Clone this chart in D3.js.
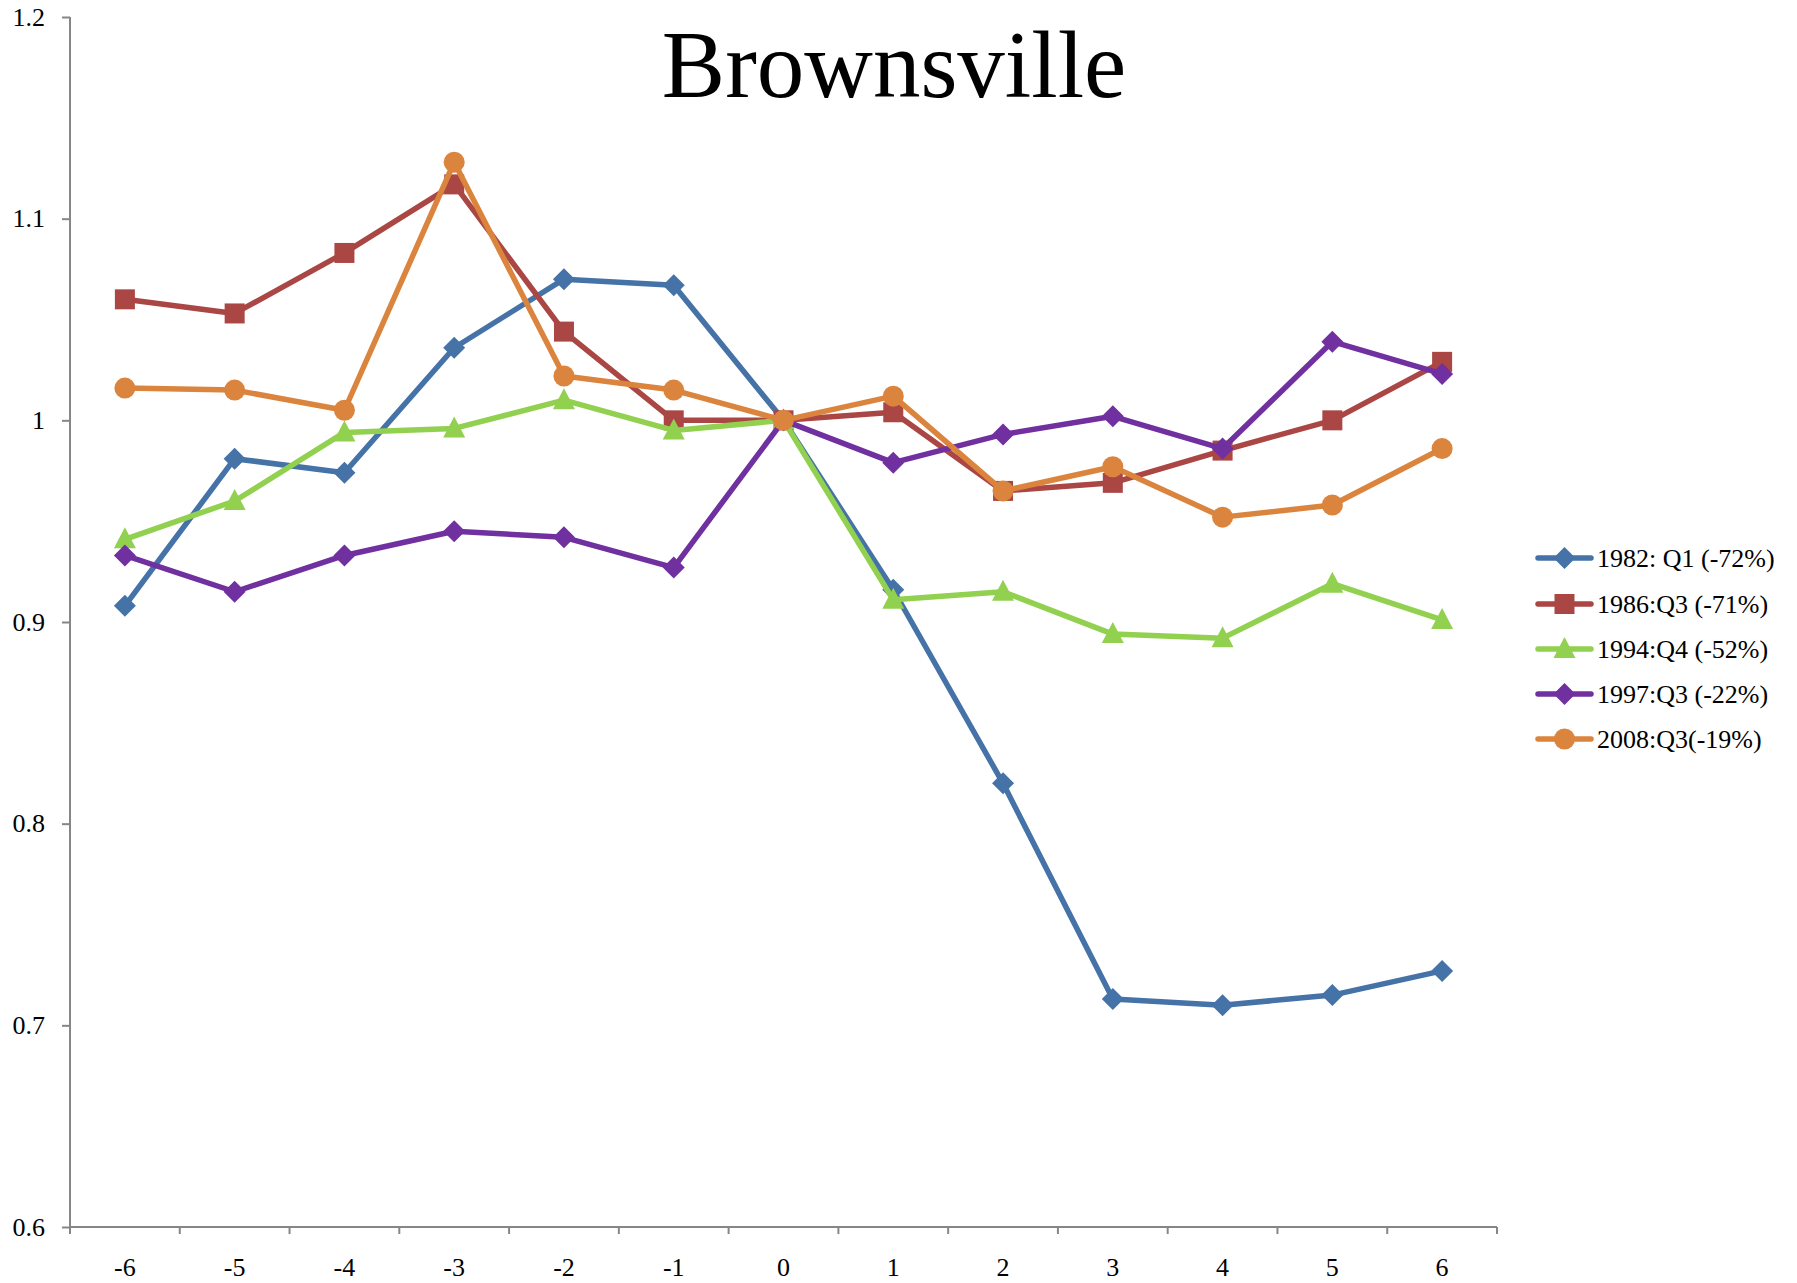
<!DOCTYPE html>
<html>
<head>
<meta charset="utf-8">
<title>Brownsville</title>
<script src="https://cdn.jsdelivr.net/npm/d3@7"></script>
<style>
  html, body { margin: 0; padding: 0; background: #ffffff; }
  svg { display: block; }
  text { font-family: "Liberation Serif", "Times New Roman", serif; fill: #000; }
</style>
</head>
<body>
<svg id="chart" width="1797" height="1283"></svg>
<script>
// Quarters relative to the start of each downturn
const quarters = ["-6", "-5", "-4", "-3", "-2", "-1", "0", "1", "2", "3", "4", "5", "6"];

// Index values (quarter 0 = 1)
const s1982 = [0.908, 0.981, 0.974, 1.036, 1.070, 1.067, 1.000, 0.916, 0.820, 0.713, 0.710, 0.715, 0.727];
const s1986 = [1.060, 1.053, 1.083, 1.117, 1.044, 1.000, 1.000, 1.004, 0.965, 0.969, 0.985, 1.000, 1.029];
const s1994 = [0.941, 0.960, 0.994, 0.996, 1.010, 0.995, 1.000, 0.911, 0.915, 0.894, 0.892, 0.919, 0.901];
const s1997 = [0.933, 0.915, 0.933, 0.945, 0.942, 0.927, 1.000, 0.979, 0.993, 1.002, 0.986, 1.039, 1.023];
const s2008 = [1.016, 1.015, 1.005, 1.128, 1.022, 1.015, 1.000, 1.012, 0.965, 0.977, 0.952, 0.958, 0.986];

const seriesNames = ["1982: Q1 (-72%)", "1986:Q3 (-71%)", "1994:Q4 (-52%)", "1997:Q3 (-22%)", "2008:Q3(-19%)"];
const yTicks = [0.6, 0.7, 0.8, 0.9, 1.0, 1.1, 1.2];

const series = [
  { name: seriesNames[0], values: s1982, color: "#4572A7", symbol: "diamond" },
  { name: seriesNames[1], values: s1986, color: "#AA4643", symbol: "square" },
  { name: seriesNames[2], values: s1994, color: "#92D050", symbol: "triangle" },
  { name: seriesNames[3], values: s1997, color: "#7030A0", symbol: "diamond" },
  { name: seriesNames[4], values: s2008, color: "#DB843D", symbol: "circle" }
];

const serif = '"Liberation Serif", "Times New Roman", serif';
const svg = d3.select("#chart");
const plotLeft = 70, plotRight = 1497, plotTop = 17, plotBottom = 1227;
const axisColor = "#868686";

const x = d3.scaleBand().domain(quarters).range([plotLeft, plotRight]).paddingInner(0).paddingOuter(0);
const cx = q => x(q) + x.bandwidth() / 2;
const y = d3.scaleLinear().domain([0.6, 1.2]).range([plotBottom, plotTop]);

// Title
svg.append("text")
  .attr("x", 894).attr("y", 97)
  .attr("text-anchor", "middle")
  .style("font-family", serif)
  .style("font-size", "95px")
  .text("Brownsville");

// Y axis
const yAxis = svg.append("g")
  .attr("transform", `translate(${plotLeft},0)`)
  .call(d3.axisLeft(y).tickValues(yTicks).tickSize(8).tickPadding(17)
    .tickFormat(d3.format("~g")));
yAxis.select(".domain").attr("stroke", axisColor).attr("stroke-width", 2)
  .attr("d", `M0,${plotTop}V${plotBottom}`);
yAxis.selectAll(".tick line").attr("stroke", axisColor).attr("stroke-width", 2);
yAxis.selectAll(".tick text").style("font-family", serif).style("font-size", "26px").attr("fill", "#000");

// X axis: labels centred in each category, tick marks on the category boundaries
const xAxis = svg.append("g")
  .attr("transform", `translate(0,${plotBottom})`)
  .call(d3.axisBottom(x).tickSize(0).tickPadding(31));
xAxis.select(".domain").attr("stroke", axisColor).attr("stroke-width", 2)
  .attr("d", `M${plotLeft},0H${plotRight}`);
xAxis.selectAll(".tick text").style("font-family", serif).style("font-size", "26px").attr("fill", "#000");

const boundaries = quarters.map(q => x(q)).concat([plotRight]);
svg.append("g").selectAll("line").data(boundaries).join("line")
  .attr("x1", d => d).attr("x2", d => d)
  .attr("y1", plotBottom).attr("y2", plotBottom + 7)
  .attr("stroke", axisColor).attr("stroke-width", 2);

// Marker shapes, drawn around the origin
function markerPath(sym) {
  const p = d3.path();
  if (sym === "diamond") {
    const r = 11;
    p.moveTo(0, -r); p.lineTo(r, 0); p.lineTo(0, r); p.lineTo(-r, 0); p.closePath();
  } else if (sym === "square") {
    const h = 10;
    p.rect(-h, -h, 2 * h, 2 * h);
  } else if (sym === "triangle") {
    const w = 11, up = 12, down = 9;
    p.moveTo(0, -up); p.lineTo(w, down); p.lineTo(-w, down); p.closePath();
  } else {
    p.arc(0, 0, 10.5, 0, 2 * Math.PI);
  }
  return p.toString();
}

const line = d3.line()
  .x((d, i) => cx(quarters[i]))
  .y(d => y(d));

const plot = svg.append("g");
series.forEach(s => {
  const g = plot.append("g");
  g.append("path")
    .attr("d", line(s.values))
    .attr("fill", "none")
    .attr("stroke", s.color)
    .attr("stroke-width", 5.5)
    .attr("stroke-linejoin", "round")
    .attr("stroke-linecap", "round");
  g.selectAll("path.m").data(s.values).join("path")
    .attr("class", "m")
    .attr("transform", (d, i) => `translate(${cx(quarters[i])},${y(d)})`)
    .attr("d", markerPath(s.symbol))
    .attr("fill", s.color);
});

// Legend
const legend = svg.append("g");
const legendY = [558, 604, 649, 694, 739];
series.forEach((s, i) => {
  const g = legend.append("g").attr("transform", `translate(0,${legendY[i]})`);
  g.append("line")
    .attr("x1", 1538).attr("x2", 1591).attr("y1", 0).attr("y2", 0)
    .attr("stroke", s.color).attr("stroke-width", 5.5).attr("stroke-linecap", "round");
  g.append("path")
    .attr("transform", "translate(1564.5,0)")
    .attr("d", markerPath(s.symbol))
    .attr("fill", s.color);
  g.append("text")
    .attr("x", 1597).attr("y", 0).attr("dy", "0.35em")
    .style("font-family", serif)
    .style("font-size", "26px")
    .text(s.name);
});
</script>
</body>
</html>
